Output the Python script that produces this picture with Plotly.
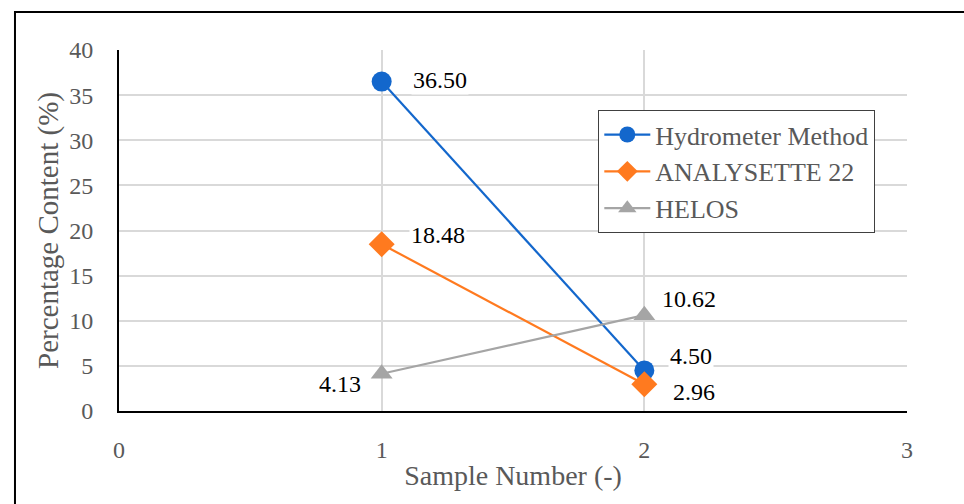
import plotly.graph_objects as go

samples = [1, 2]
hydrometer = [36.50, 4.50]
analysette = [18.48, 2.96]
helos = [4.13, 10.62]
names = ["Hydrometer Method", "ANALYSETTE 22", "HELOS"]
x_ticks = [0, 1, 2, 3]
y_ticks = [0, 5, 10, 15, 20, 25, 30, 35, 40]

FONT = "Liberation Serif"
blue = "#1367CC"
orange = "#FF7A1F"
gray = "#A5A5A5"

fig = go.Figure()
fig.add_trace(go.Scatter(x=samples, y=hydrometer, name=names[0], mode="lines+markers",
                         line=dict(color=blue, width=2.2),
                         marker=dict(symbol="circle", size=20, color=blue)))
fig.add_trace(go.Scatter(x=samples, y=analysette, name=names[1], mode="lines+markers",
                         line=dict(color=orange, width=2.2),
                         marker=dict(symbol="diamond", size=20, color=orange)))
fig.add_trace(go.Scatter(x=samples, y=helos, name=names[2], mode="lines+markers",
                         line=dict(color=gray, width=2.2),
                         marker=dict(symbol="triangle-up", size=19, color=gray)))

# data labels: (series, index, xshift, yshift)
label_specs = [
    (hydrometer, 0, 58, 2),
    (hydrometer, 1, 47, 14),
    (analysette, 0, 56, 9),
    (analysette, 1, 50, -8),
    (helos, 0, -42, -10),
    (helos, 1, 45, 16),
]
for series, i, xs, ys in label_specs:
    fig.add_annotation(x=samples[i], y=series[i], text=f"{series[i]:.2f}",
                       showarrow=False, xshift=xs, yshift=ys, bgcolor="white", borderpad=1,
                       font=dict(family=FONT, size=24, color="black"))

fig.add_shape(type="rect", xref="paper", yref="paper", x0=-0.132, y0=-0.5, x1=1.3, y1=1.105,
              line=dict(color="black", width=2), fillcolor="rgba(0,0,0,0)", layer="above")

fig.update_layout(
    width=964, height=504,
    margin=dict(l=119, r=57, t=50, b=93),
    paper_bgcolor="white", plot_bgcolor="white",
    font=dict(family=FONT, size=24, color="#595959"),
    showlegend=True,
    legend=dict(x=0.608, y=0.834, xanchor="left", yanchor="top",
                bordercolor="#404040", borderwidth=1.2, bgcolor="white",
                font=dict(family=FONT, size=26, color="#595959"),
                itemwidth=46, tracegroupgap=0),
    xaxis=dict(range=[0, 3], tickvals=x_ticks, showgrid=True, gridcolor="#D9D9D9", gridwidth=1.5,
               showline=True, linecolor="black", linewidth=2, zeroline=False,
               ticks="", ticklabelstandoff=16,
               tickfont=dict(family=FONT, size=24, color="#595959"),
               title=dict(text="Sample Number (-)", standoff=4,
                          font=dict(family=FONT, size=28, color="#595959"))),
    yaxis=dict(range=[0, 40], tickvals=y_ticks, showgrid=True, gridcolor="#D9D9D9", gridwidth=1.5,
               showline=True, linecolor="black", linewidth=2, zeroline=False,
               ticks="", ticklabelstandoff=19,
               tickfont=dict(family=FONT, size=24, color="#595959"),
               title=dict(text="Percentage Content (%)", standoff=2,
                          font=dict(family=FONT, size=29, color="#595959"))),
)

fig.write_html("out.html")
